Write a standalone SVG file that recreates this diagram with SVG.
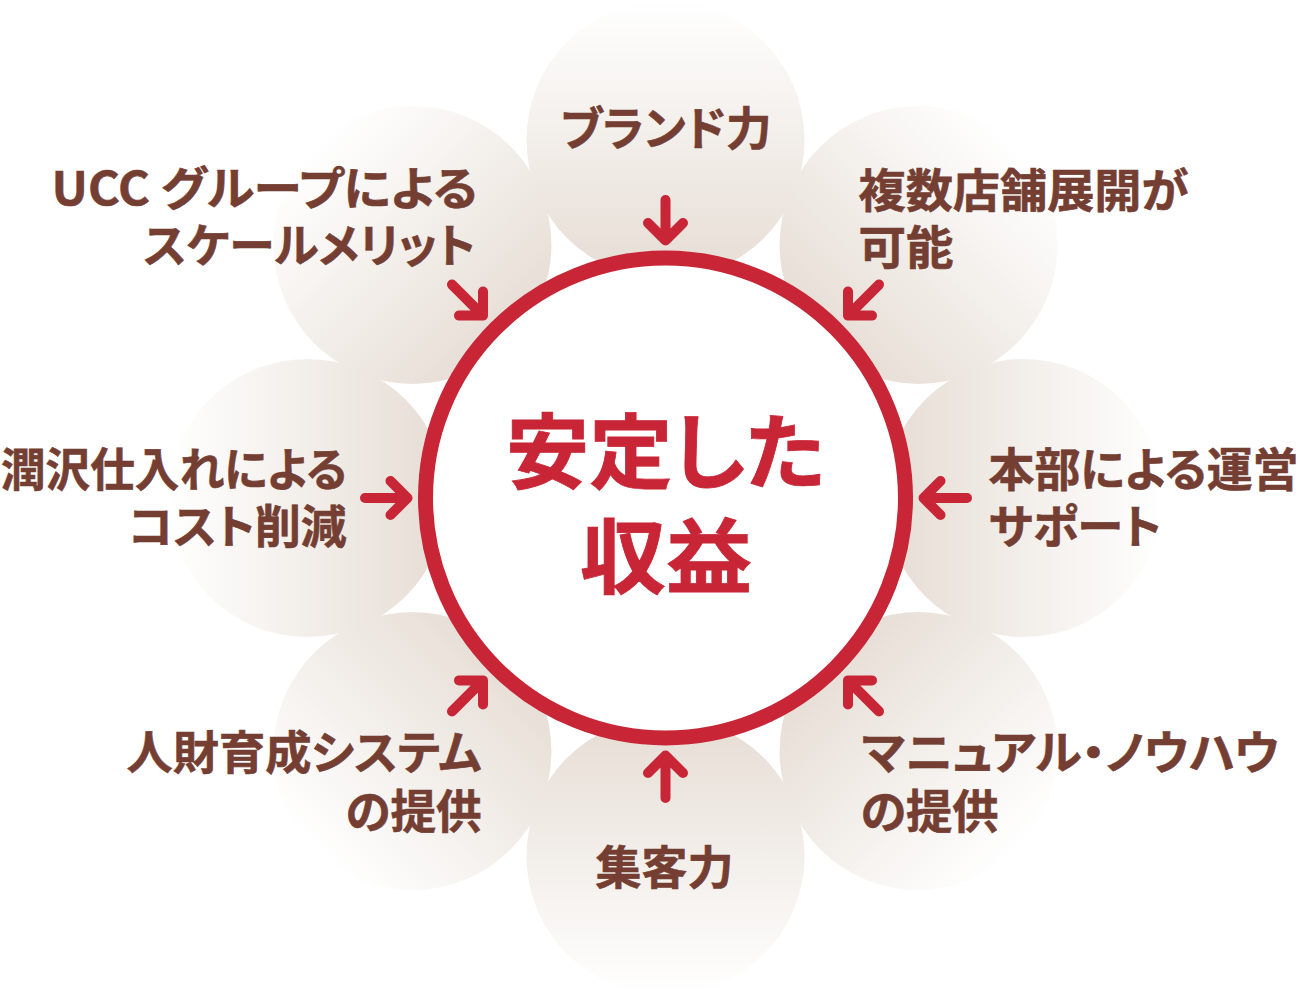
<svg xmlns="http://www.w3.org/2000/svg" width="1300" height="997" viewBox="0 0 1300 997">
<style>
.lbl{font-family:"Noto Sans CJK JP","Noto Sans",sans-serif;font-weight:700;font-size:46px;fill:#743e32;stroke:#743e32;stroke-width:0.6px;font-feature-settings:"palt";}
.ctr{font-family:"Noto Sans CJK JP","Noto Sans",sans-serif;font-weight:700;font-size:82px;fill:#c82536;stroke:#c82536;stroke-width:0.8px;font-feature-settings:"palt";}
.arr{fill:none;stroke:#c82536;stroke-width:10;stroke-linecap:round;stroke-linejoin:round;}
</style>
<defs>
<linearGradient id="bg" gradientUnits="userSpaceOnUse" x1="0" y1="139" x2="0" y2="-139">
<stop offset="0" stop-color="#e6ddd4"/>
<stop offset="0.88" stop-color="#fcfbfa"/>
<stop offset="1" stop-color="#ffffff"/>
</linearGradient>
</defs>
<rect width="1300" height="997" fill="#ffffff"/>
<g id="bubbles">
<g id="n-brand" transform="translate(665.5,140) rotate(0)"><circle r="139" fill="url(#bg)"/></g>
<g id="n-multi" transform="translate(918.6,244.9) rotate(45)"><circle r="139" fill="url(#bg)"/></g>
<g id="n-hq" transform="translate(1023.5,498) rotate(90)"><circle r="139" fill="url(#bg)"/></g>
<g id="n-manual" transform="translate(918.6,751.1) rotate(135)"><circle r="139" fill="url(#bg)"/></g>
<g id="n-customer" transform="translate(665.5,856) rotate(180)"><circle r="139" fill="url(#bg)"/></g>
<g id="n-hr" transform="translate(412.4,751.1) rotate(225)"><circle r="139" fill="url(#bg)"/></g>
<g id="n-cost" transform="translate(307.5,498) rotate(270)"><circle r="139" fill="url(#bg)"/></g>
<g id="n-ucc" transform="translate(412.4,244.9) rotate(315)"><circle r="139" fill="url(#bg)"/></g>
</g>
<g id="center">
<circle cx="665.5" cy="498" r="240" fill="#ffffff" stroke="#c82536" stroke-width="15"/>
<text class="ctr" x="506" y="482" textLength="319" lengthAdjust="spacingAndGlyphs">安定した</text>
<text class="ctr" x="580" y="587" textLength="172" lengthAdjust="spacingAndGlyphs">収益</text>
</g>
<g id="connectors">
<path class="arr" d="M665.5,200V240M648,223L665.5,240.5L683,223"/>
<path class="arr" d="M848,315.6L879,284.6M872,315.6H848V291.6"/>
<path class="arr" d="M967,498H923.5M940.5,481L923.5,498L940.5,515"/>
<path class="arr" d="M848,680.4L879,711.4M872,680.4H848V704.4"/>
<path class="arr" d="M665.5,798V756M648,773L665.5,755.5L683,773"/>
<path class="arr" d="M483,680.4L452,711.4M459,680.4H483V704.4"/>
<path class="arr" d="M365,498H407.5M390.5,481L407.5,498L390.5,515"/>
<path class="arr" d="M483,315.6L452,284.6M459,315.6H483V291.6"/>
</g>
<g id="labels">
<g id="t-brand"><text class="lbl" x="560.5" y="145" textLength="211" lengthAdjust="spacingAndGlyphs">ブランド力</text></g>
<g id="t-multi"><text class="lbl" x="858.5" y="207" textLength="330" lengthAdjust="spacingAndGlyphs">複数店舗展開が</text><text class="lbl" x="858.5" y="264" textLength="95" lengthAdjust="spacingAndGlyphs">可能</text></g>
<g id="t-hq"><text class="lbl" x="988.5" y="486" textLength="310" lengthAdjust="spacingAndGlyphs">本部による運営</text><text class="lbl" x="988.5" y="543" textLength="173" lengthAdjust="spacingAndGlyphs">サポート</text></g>
<g id="t-manual"><text class="lbl" x="861.5" y="769" textLength="418" lengthAdjust="spacingAndGlyphs">マニュアル・ノウハウ</text><text class="lbl" x="860.5" y="828" textLength="138" lengthAdjust="spacingAndGlyphs">の提供</text></g>
<g id="t-customer"><text class="lbl" x="595.5" y="884" textLength="138" lengthAdjust="spacingAndGlyphs">集客力</text></g>
<g id="t-hr"><text class="lbl" x="126.5" y="769" textLength="355" lengthAdjust="spacingAndGlyphs">人財育成システム</text><text class="lbl" x="345.5" y="828" textLength="136" lengthAdjust="spacingAndGlyphs">の提供</text></g>
<g id="t-cost"><text class="lbl" x="1" y="486" textLength="346" lengthAdjust="spacingAndGlyphs">潤沢仕入れによる</text><text class="lbl" x="128.5" y="543" textLength="218" lengthAdjust="spacingAndGlyphs">コスト削減</text></g>
<g id="t-ucc"><text class="lbl" x="51.5" y="205" textLength="426" lengthAdjust="spacingAndGlyphs">UCC グループによる</text><text class="lbl" x="143.5" y="262" textLength="332" lengthAdjust="spacingAndGlyphs">スケールメリット</text></g>
</g>
</svg>
